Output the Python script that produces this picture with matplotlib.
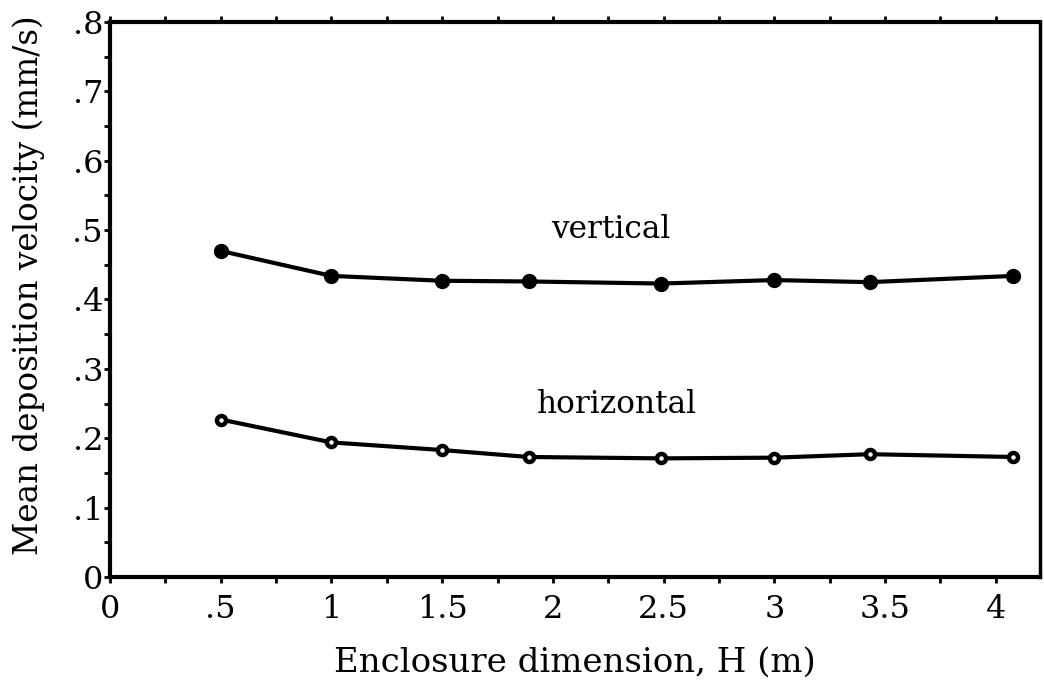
import numpy as np
import matplotlib
matplotlib.use("Agg")
import matplotlib.pyplot as plt
from matplotlib.ticker import MultipleLocator

# enclosure dimension H (m)
h_vert = [0.50, 1.00, 1.50, 1.89, 2.49, 3.00, 3.43, 4.08]
v_vert = [0.470, 0.434, 0.427, 0.426, 0.423, 0.428, 0.425, 0.434]

h_horiz = [0.50, 1.00, 1.50, 1.89, 2.49, 3.00, 3.43, 4.08]
v_horiz = [0.227, 0.194, 0.183, 0.173, 0.171, 0.172, 0.177, 0.173]

x_ticks = [0, 0.5, 1, 1.5, 2, 2.5, 3, 3.5, 4]
x_labels = ["0", ".5", "1", "1.5", "2", "2.5", "3", "3.5", "4"]
y_ticks = [0, 0.1, 0.2, 0.3, 0.4, 0.5, 0.6, 0.7, 0.8]
y_labels = ["0", ".1", ".2", ".3", ".4", ".5", ".6", ".7", ".8"]

plt.rcParams['font.family'] = ['DejaVu Serif']

fig = plt.figure(figsize=(10.44, 6.83), dpi=100)
ax = fig.add_axes([0.1054, 0.1552, 0.8908, 0.8126])

ax.plot(h_vert, v_vert, '-', color='black', lw=3, marker='o', ms=10,
        mfc='black', mec='black')
ax.plot(h_horiz, v_horiz, '-', color='black', lw=3, marker='o', ms=6.5,
        mfc='white', mec='black', mew=3.2)

ax.text(2.26, 0.488, "vertical", ha='center', va='baseline', fontsize=22.5)
ax.text(2.29, 0.236, "horizontal", ha='center', va='baseline', fontsize=22.5)

ax.set_xlim(0, 4.2)
ax.set_ylim(0, 0.8)
ax.set_xticks(x_ticks)
ax.set_xticklabels(x_labels)
ax.set_yticks(y_ticks)
ax.set_yticklabels(y_labels)
ax.xaxis.set_minor_locator(MultipleLocator(0.25))
ax.yaxis.set_minor_locator(MultipleLocator(0.05))

ax.tick_params(which='both', direction='out', top=True, right=False,
               length=4, width=2, labelsize=23)
ax.tick_params(axis='x', pad=8)
ax.tick_params(axis='y', pad=1)

for side in ['left', 'bottom', 'top']:
    ax.spines[side].set_linewidth(3)
ax.spines['right'].set_linewidth(2.5)

ax.set_xlabel("Enclosure dimension, H (m)", fontsize=24.5, labelpad=16)
ax.set_ylabel("Mean deposition velocity (mm/s)", fontsize=23.5)
ax.yaxis.set_label_coords(-0.070, 0.526)

fig.savefig("out.png", dpi=100)
